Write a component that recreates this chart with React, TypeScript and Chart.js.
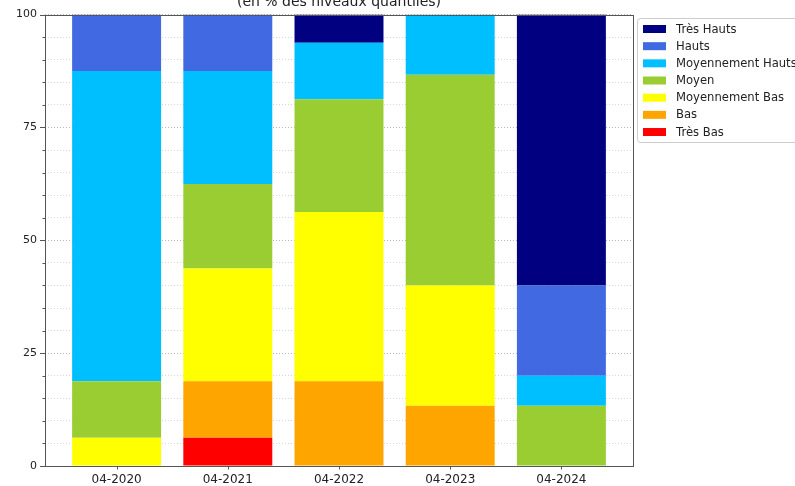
import React, { useEffect, useRef } from "react";
import { Chart, registerables } from "chart.js";

Chart.register(...registerables);

const categories = ["04-2020", "04-2021", "04-2022", "04-2023", "04-2024"];
const tresBas = [0, 6.25, 0, 0, 0];
const bas = [0, 12.5, 18.75, 13.33, 0];
const moyBas = [6.25, 25, 37.5, 26.67, 0];
const moyen = [12.5, 18.75, 25, 46.67, 13.33];
const moyHauts = [68.75, 25, 12.5, 13.33, 6.67];
const hauts = [12.5, 12.5, 0, 0, 20];
const tresHauts = [0, 0, 6.25, 0, 60];

const seriesNames = ["Très Bas", "Bas", "Moyennement Bas", "Moyen", "Moyennement Hauts", "Hauts", "Très Hauts"];
const seriesValues = [tresBas, bas, moyBas, moyen, moyHauts, hauts, tresHauts];
const seriesColors = ["#FF0000", "#FFA500", "#FFFF00", "#9ACD32", "#00BFFF", "#4169E1", "#000080"];
const yTickLabels = [0, 25, 50, 75, 100];
const titleText = "(en % des niveaux quantiles)";

const FONT = "'DejaVu Sans', sans-serif";

const decorPlugin = {
  id: "decor",
  beforeDraw(chart: any) {
    const { ctx, width, height } = chart;
    ctx.save();
    ctx.fillStyle = "#ffffff";
    ctx.fillRect(0, 0, width, height);
    ctx.restore();
  },
  afterDraw(chart: any) {
    const { ctx, chartArea } = chart;
    const { left, right, top, bottom } = chartArea;
    const ys = chart.scales.y;
    const xs = chart.scales.x;
    ctx.save();
    // tick marks
    ctx.strokeStyle = "#555";
    ctx.lineWidth = 1;
    for (let v = 0; v <= 100; v += 5) {
      const py = Math.round(ys.getPixelForValue(v)) + 0.5;
      const len = yTickLabels.includes(v) ? 5 : 2.5;
      ctx.beginPath();
      ctx.moveTo(left - len, py);
      ctx.lineTo(left, py);
      ctx.stroke();
    }
    categories.forEach((_, i) => {
      const px = Math.round(xs.getPixelForValue(i)) + 0.5;
      ctx.beginPath();
      ctx.moveTo(px, bottom);
      ctx.lineTo(px, bottom + 3.5);
      ctx.stroke();
    });
    // frame
    ctx.strokeStyle = "#555";
    ctx.strokeRect(Math.round(left) + 0.5, Math.round(top) + 0.5, Math.round(right - left), Math.round(bottom - top));
    // title
    ctx.fillStyle = "#222";
    ctx.font = `14px ${FONT}`;
    ctx.textAlign = "center";
    ctx.textBaseline = "alphabetic";
    ctx.fillText(titleText, (left + right) / 2, 6);
    // legend
    const lx = 637.5;
    const ly = 18.5;
    const lw = 200;
    const lh = 124;
    ctx.fillStyle = "#ffffff";
    ctx.strokeStyle = "#cccccc";
    ctx.beginPath();
    const r = 3;
    ctx.moveTo(lx + r, ly);
    ctx.lineTo(lx + lw, ly);
    ctx.lineTo(lx + lw, ly + lh);
    ctx.lineTo(lx + r, ly + lh);
    ctx.arcTo(lx, ly + lh, lx, ly + lh - r, r);
    ctx.lineTo(lx, ly + r);
    ctx.arcTo(lx, ly, lx + r, ly, r);
    ctx.closePath();
    ctx.fill();
    ctx.stroke();
    ctx.font = `11.6px ${FONT}`;
    ctx.textAlign = "left";
    ctx.textBaseline = "middle";
    const order = seriesNames.map((_, i) => seriesNames.length - 1 - i);
    order.forEach((si, k) => {
      const cy = 29 + k * 17.17;
      ctx.fillStyle = seriesColors[si];
      ctx.fillRect(643, cy - 4, 23, 8);
      ctx.fillStyle = "#222";
      ctx.fillText(seriesNames[si], 676, cy + 0.5);
    });
    ctx.restore();
  },
};

export default function App() {
  const ref = useRef<HTMLCanvasElement | null>(null);
  useEffect(() => {
    document.body.style.margin = "0";
    const canvas = ref.current;
    if (!canvas) return;
    const chart = new Chart(canvas, {
      type: "bar",
      data: {
        datasets: seriesNames.map((name, si) => ({
          label: name,
          data: seriesValues[si].map((v, i) => ({ x: i, y: v })),
          backgroundColor: seriesColors[si],
          borderWidth: 0,
          categoryPercentage: 1,
          barPercentage: 0.8,
        })),
      },
      options: {
        responsive: false,
        animation: false,
        devicePixelRatio: 1,
        layout: { padding: { left: 0, right: 162, top: 13, bottom: 0 } },
        plugins: { legend: { display: false }, tooltip: { enabled: false }, title: { display: false } },
        scales: {
          x: {
            type: "linear",
            stacked: true,
            offset: false,
            min: -0.644,
            max: 4.644,
            afterBuildTicks: (scale: any) => {
              scale.ticks = categories.map((_, i) => ({ value: i }));
            },
            afterFit: (scale: any) => {
              scale.height = 20;
            },
            grid: { display: false, drawTicks: false, offset: false },
            border: { display: false },
            ticks: {
              autoSkip: false,
              maxRotation: 0,
              padding: 7,
              color: "#222",
              font: { family: FONT, size: 12 },
              callback: (v: any) => categories[v as number] ?? "",
            },
          },
          y: {
            stacked: true,
            min: 0,
            max: 100,
            afterBuildTicks: (scale: any) => {
              const t = [];
              for (let v = 0; v <= 100; v += 5) t.push({ value: v });
              scale.ticks = t;
            },
            afterFit: (scale: any) => {
              scale.width = 45;
            },
            grid: {
              drawTicks: false,
              color: (c: any) => (c.tick && c.tick.value % 25 === 0 ? "#b8b8b8" : "#d6d6d6"),
              lineWidth: 1,
            },
            border: { display: false, dash: [1, 2] },
            ticks: {
              autoSkip: false,
              padding: 8,
              color: "#222",
              font: { family: FONT, size: 11 },
              callback: (v: any) => (yTickLabels.includes(v as number) ? String(v) : ""),
            },
          },
        },
      },
      plugins: [decorPlugin],
    } as any);
    return () => chart.destroy();
  }, []);
  return (
    <div style={{ width: 795, height: 486 }}>
      <canvas ref={ref} width={795} height={486} style={{ display: "block", width: 795, height: 486 }} />
    </div>
  );
}
